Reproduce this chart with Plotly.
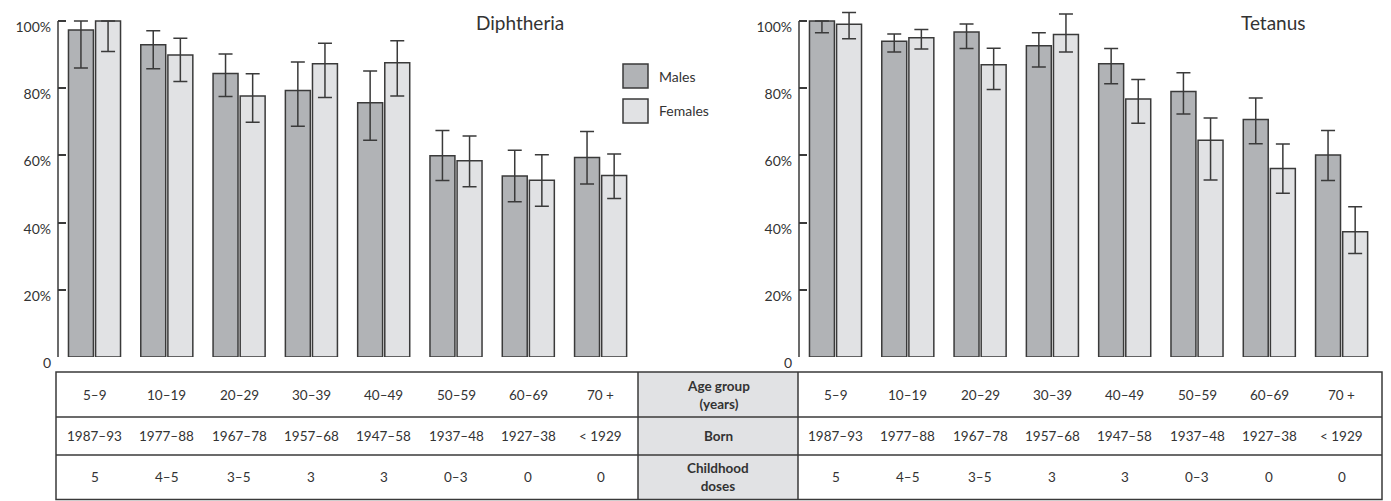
import plotly.graph_objects as go

W, H = 1391, 501

# ---------------- data ----------------
age_groups = ["5–9", "10–19", "20–29", "30–39", "40–49", "50–59", "60–69", "70 +"]
born = ["1987–93", "1977–88", "1967–78", "1957–68", "1947–58", "1937–48", "1927–38", "< 1929"]
doses = ["5", "4–5", "3–5", "3", "3", "0–3", "0", "0"]
row_labels = ["Age group<br>(years)", "Born", "Childhood<br>doses"]

# Diphtheria (%), with 95% CI bounds
diph_m = [97.3, 92.9, 84.4, 79.3, 75.7, 59.9, 53.9, 59.4]
diph_m_lo = [86.0, 85.8, 77.5, 68.7, 64.5, 52.5, 46.2, 51.5]
diph_m_hi = [100.0, 97.1, 90.2, 87.8, 85.1, 67.4, 61.5, 67.1]
diph_f = [100.0, 89.9, 77.7, 87.3, 87.6, 58.4, 52.6, 54.0]
diph_f_lo = [90.9, 82.0, 69.9, 77.2, 77.7, 50.7, 44.9, 47.2]
diph_f_hi = [100.0, 94.9, 84.3, 93.4, 94.1, 65.8, 60.2, 60.4]

# Tetanus (%)
tet_m = [100.0, 94.0, 96.7, 92.6, 87.3, 79.0, 70.7, 60.1]
tet_m_lo = [96.5, 90.8, 91.8, 86.3, 81.3, 72.3, 63.5, 52.5]
tet_m_hi = [100.0, 96.1, 99.1, 96.5, 91.8, 84.6, 77.1, 67.4]
tet_f = [99.0, 95.0, 87.0, 96.0, 76.8, 64.5, 56.1, 37.3]
tet_f_lo = [94.7, 91.7, 79.6, 90.8, 69.6, 52.7, 48.7, 30.8]
tet_f_hi = [102.5, 97.5, 91.9, 102.1, 82.6, 71.1, 63.4, 44.7]

tick_vals = [0, 20, 40, 60, 80, 100]
tick_text = ["0", "20%", "40%", "60%", "80%", "100%"]

MALE = "#b1b3b6"
FEMALE = "#e1e2e4"
EDGE = "#3a3a3a"
TXT = "#333333"
FONT = "Lato"

def px_x(p):
    return p / W

def px_y(p):
    return (H - p) / H

fig = go.Figure()

def add_pair(vals_m, lo_m, hi_m, vals_f, lo_f, hi_f, xa, ya):
    idx = list(range(len(vals_m)))
    for name, v, lo, hi, col in [("Males", vals_m, lo_m, hi_m, MALE),
                                 ("Females", vals_f, lo_f, hi_f, FEMALE)]:
        fig.add_trace(go.Bar(
            x=idx, y=v, name=name, xaxis=xa, yaxis=ya,
            marker=dict(color=col, line=dict(color=EDGE, width=1.5)),
            error_y=dict(type="data", symmetric=False,
                         array=[h - a for h, a in zip(hi, v)],
                         arrayminus=[a - l for a, l in zip(v, lo)],
                         color=EDGE, thickness=1.5, width=7),
            showlegend=False, hoverinfo="skip",
        ))

add_pair(diph_m, diph_m_lo, diph_m_hi, diph_f, diph_f_lo, diph_f_hi, "x", "y")
add_pair(tet_m, tet_m_lo, tet_m_hi, tet_f, tet_f_lo, tet_f_hi, "x2", "y2")

# plot geometry (pixels, screen coordinates)
Y0, Y100 = 357, 21
YTOP = 2
YMAX = 100 * (Y0 - YTOP) / (Y0 - Y100)
y_dom = [px_y(Y0), px_y(YTOP)]
L_AX, R_AX = 58, 799
SPAN = 580
GROUP = 72.3
r0 = -36.5 / GROUP
xrange_ = [r0, r0 + SPAN / GROUP]

common_x = dict(range=xrange_, showgrid=False, zeroline=False, showline=False,
                showticklabels=False, ticks="", fixedrange=True, automargin=False)
common_y = dict(range=[0, YMAX], domain=y_dom, showgrid=False, zeroline=False,
                showline=False, ticks="inside", ticklen=8, tickwidth=1.5,
                tickcolor=EDGE, tickvals=tick_vals, ticktext=tick_text,
                tickfont=dict(family=FONT, size=14, color=TXT),
                ticklabelshift=6, ticklabelstandoff=6, fixedrange=True,
                automargin=False)

fig.update_layout(
    template="none",
    width=W, height=H, autosize=False, margin=dict(l=0, r=0, t=0, b=0, pad=0),
    paper_bgcolor="white", plot_bgcolor="white",
    barmode="group", bargap=0.25, bargroupgap=0.08,
    showlegend=False,
    xaxis=dict(domain=[px_x(L_AX), px_x(L_AX + SPAN)], anchor="y", **common_x),
    yaxis=dict(anchor="x", **common_y),
    xaxis2=dict(domain=[px_x(R_AX), px_x(R_AX + SPAN)], anchor="y2", **common_x),
    yaxis2=dict(anchor="x2", **common_y),
    font=dict(family=FONT, color=TXT),
)

shapes = []
annotations = []

# y-axis lines from 0 to 100%
for xa in ["x", "x2"]:
    yref = "y" if xa == "x" else "y2"
    shapes.append(dict(type="line", xref=f"{xa} domain", yref=yref, x0=0, x1=0,
                       y0=0, y1=100, line=dict(color=EDGE, width=1.5)))

# titles
annotations.append(dict(text="Diphtheria", x=px_x(520), y=px_y(23), xref="paper", yref="paper",
                        showarrow=False, xanchor="center", yanchor="middle",
                        font=dict(family=FONT, size=19, color=TXT)))
annotations.append(dict(text="Tetanus", x=px_x(1273), y=px_y(23), xref="paper", yref="paper",
                        showarrow=False, xanchor="center", yanchor="middle",
                        font=dict(family=FONT, size=19, color=TXT)))

# legend
for label, col, yc in [("Males", MALE, 76), ("Females", FEMALE, 111)]:
    shapes.append(dict(type="rect", xref="paper", yref="paper",
                       x0=px_x(623), x1=px_x(648), y0=px_y(yc - 12), y1=px_y(yc + 12),
                       fillcolor=col, line=dict(color=EDGE, width=1.5)))
    annotations.append(dict(text=label, x=px_x(657), y=px_y(yc), xref="paper", yref="paper",
                            showarrow=False, xanchor="left", yanchor="middle",
                            font=dict(family=FONT, size=14, color=TXT)))

# table
T_L, T_R = 56, 1382
T_TOP, T_R1, T_R2, T_BOT = 372, 417, 455, 499.5
LAB_L, LAB_R = 638, 798
shapes.append(dict(type="rect", xref="paper", yref="paper",
                   x0=px_x(LAB_L), x1=px_x(LAB_R), y0=px_y(T_BOT), y1=px_y(T_TOP),
                   fillcolor=FEMALE, line=dict(width=0), layer="below"))
shapes.append(dict(type="rect", xref="paper", yref="paper",
                   x0=px_x(T_L), x1=px_x(T_R), y0=px_y(T_BOT), y1=px_y(T_TOP),
                   line=dict(color=EDGE, width=1.5)))
for yy in [T_R1, T_R2]:
    shapes.append(dict(type="line", xref="paper", yref="paper",
                       x0=px_x(T_L), x1=px_x(T_R), y0=px_y(yy), y1=px_y(yy),
                       line=dict(color=EDGE, width=1.5)))
for xx in [LAB_L, LAB_R]:
    shapes.append(dict(type="line", xref="paper", yref="paper",
                       x0=px_x(xx), x1=px_x(xx), y0=px_y(T_BOT), y1=px_y(T_TOP),
                       line=dict(color=EDGE, width=1.5)))

row_centers = [(T_TOP + T_R1) / 2, (T_R1 + T_R2) / 2, (T_R2 + T_BOT) / 2]
for rc, row in zip(row_centers, [age_groups, born, doses]):
    for xa in ["x", "x2"]:
        for i, t in enumerate(row):
            annotations.append(dict(text=t, x=i, y=px_y(rc), xref=xa, yref="paper",
                                    showarrow=False, xanchor="center", yanchor="middle",
                                    font=dict(family=FONT, size=13.5, color=TXT)))
for rc, lab in zip(row_centers, row_labels):
    annotations.append(dict(text=f"<b>{lab}</b>", x=px_x((LAB_L + LAB_R) / 2), y=px_y(rc),
                            xref="paper", yref="paper", showarrow=False,
                            xanchor="center", yanchor="middle",
                            font=dict(family=FONT, size=13.5, color=TXT)))

fig.update_layout(shapes=shapes, annotations=annotations)
fig.write_html("out.html", config={"displayModeBar": False, "responsive": False},
               post_script="document.body.style.margin='0';document.body.style.overflow='hidden';")
